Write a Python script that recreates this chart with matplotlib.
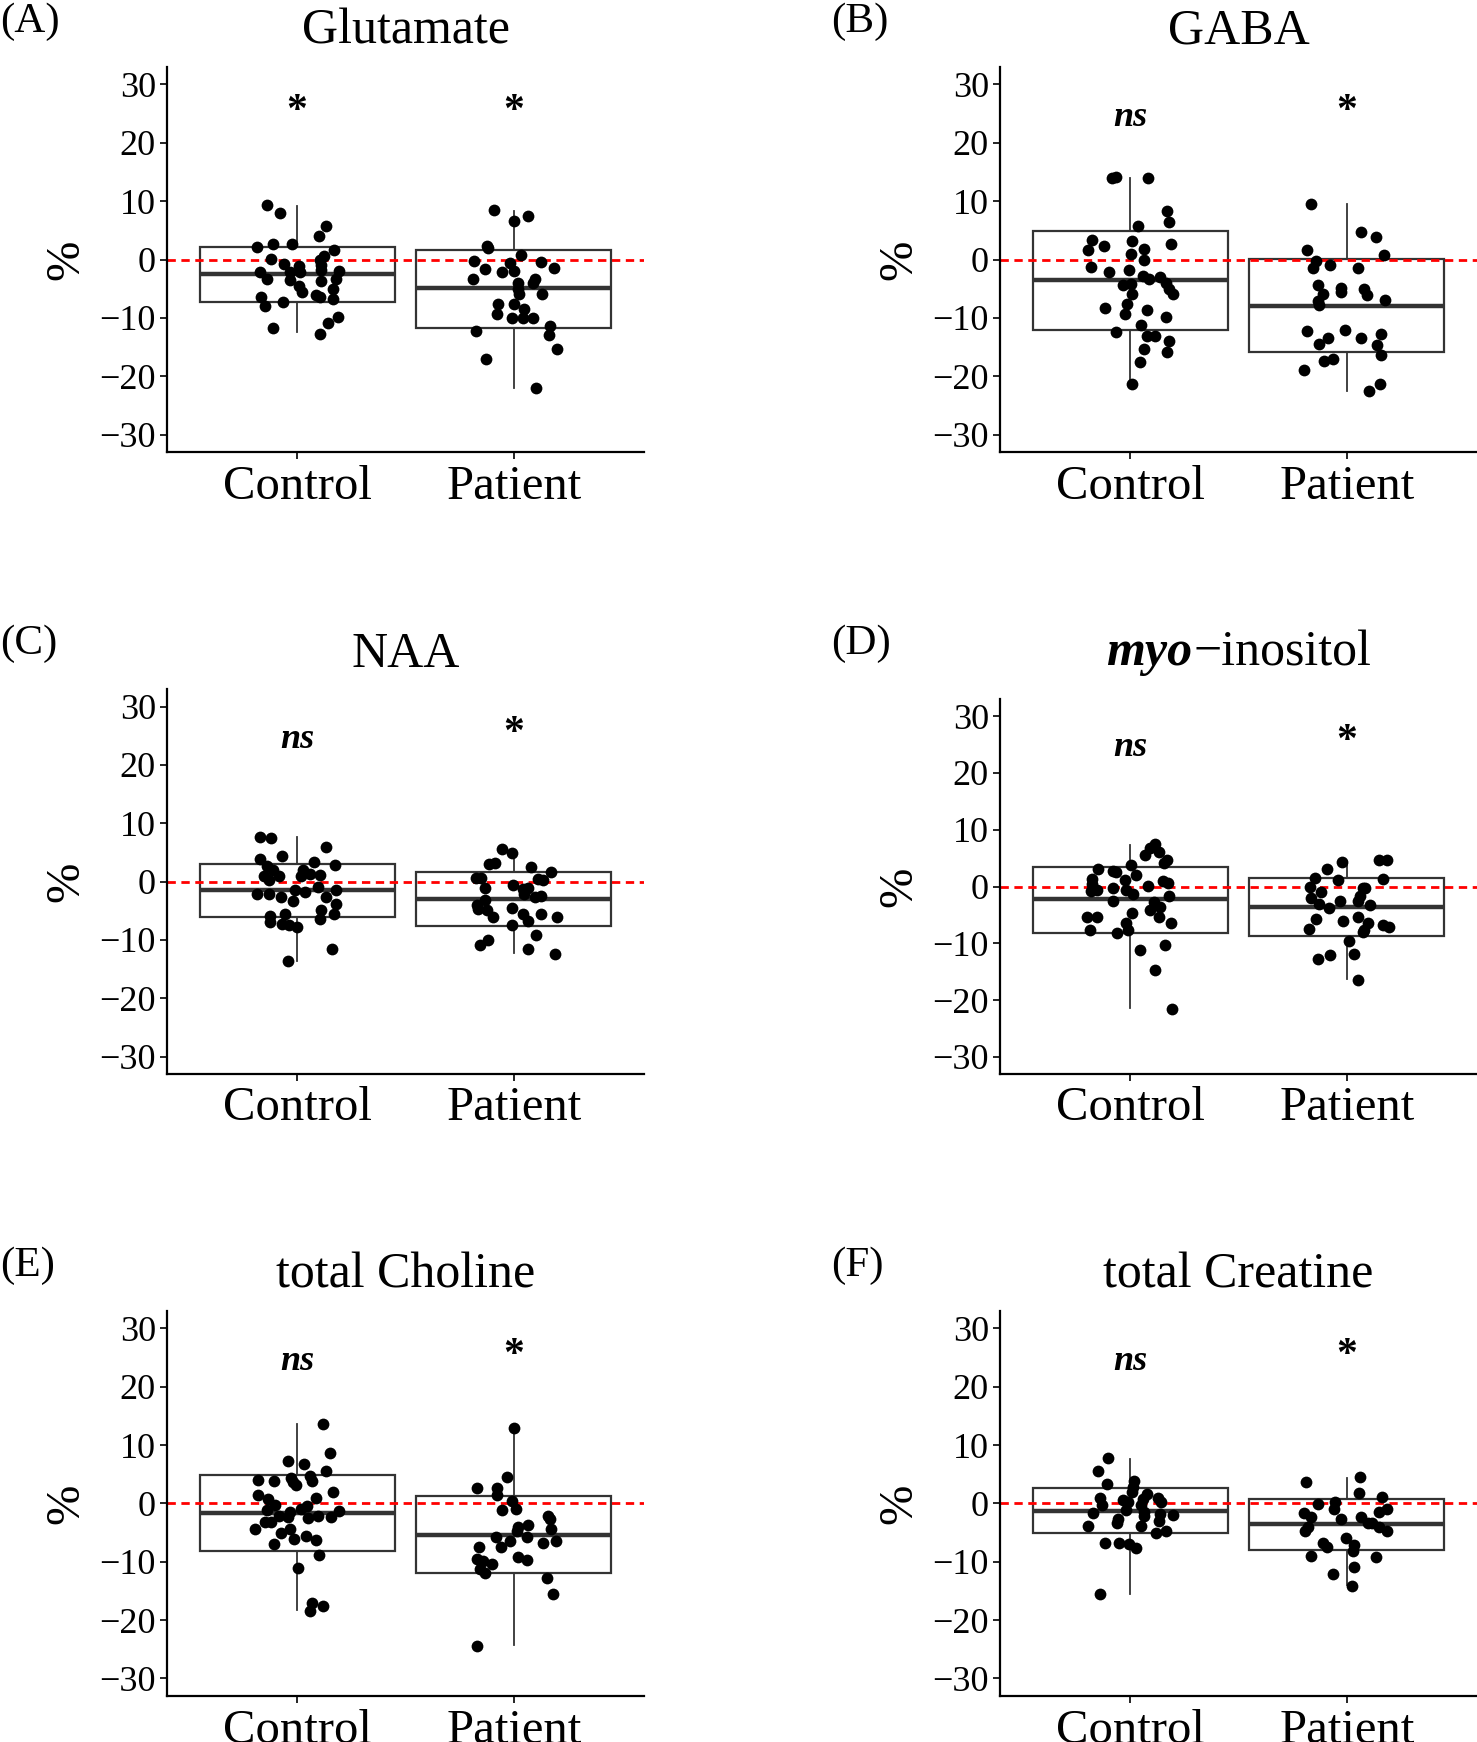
import matplotlib
matplotlib.use("Agg")
import matplotlib.pyplot as plt
import numpy as np

plt.rcParams['font.family'] = ['Liberation Serif', 'DejaVu Serif']
plt.rcParams['axes.unicode_minus'] = True

groups = ["Control", "Patient"]
y_ticks = [-30, -20, -10, 0, 10, 20, 30]
panel_letters = ["(A)", "(B)", "(C)", "(D)", "(E)", "(F)"]
titles = ["Glutamate", "GABA", "NAA", "myo\u2212inositol", "total Choline", "total Creatine"]
sig_labels = [["*", "*"], ["ns", "*"], ["ns", "*"], ["ns", "*"], ["ns", "*"], ["ns", "*"]]
star_y = 23.6
ns_y = 24.4

# ---- Glutamate ----
glu_control = [9.3, 7.9, 5.7, 4.0, 2.1, 2.6, 2.6, 1.6, 0.6, 0.1, 0.0, -0.7, -1.1, -1.0, -2.1, -2.1,
               -2.1, -1.9, -3.3, -3.5, -1.8, -3.7, -3.3, -5.0, -4.5, -5.5, -6.1, -6.4, -6.7, -6.5,
               -7.3, -8.0, -9.9, -10.8, -11.8, -12.7]
glu_control_jit = [-0.138, -0.081, 0.135, 0.103, -0.184, -0.113, -0.023, 0.169, 0.126, -0.120, 0.107,
                   -0.061, 0.011, 0.110, -0.169, -0.031, 0.015, 0.192, -0.141, -0.034, 0.110, 0.110,
                   0.181, 0.164, 0.008, 0.023, 0.087, 0.104, 0.164, -0.166, -0.066, -0.146, 0.189,
                   0.141, -0.110, 0.104]
glu_patient = [8.5, 6.6, 7.4, 2.3, 1.9, 0.7, -0.3, -0.6, -0.5, -1.7, -1.5, -2.2, -1.9, -3.4, -3.4,
               -4.1, -4.0, -5.0, -5.9, -5.9, -7.7, -7.7, -8.4, -9.4, -10.1, -10.1, -10.1, -11.4,
               -13.0, -12.3, -15.4, -17.0, -22.1]
glu_patient_jit = [-0.092, 0.0, 0.066, -0.126, -0.118, 0.031, -0.183, -0.018, 0.123, -0.133, 0.186,
                   -0.057, 0.0, -0.187, 0.097, 0.089, 0.020, 0.020, 0.025, 0.130, -0.075, 0.0, 0.046,
                   -0.080, -0.008, 0.040, 0.089, 0.166, 0.161, -0.175, 0.199, -0.130, 0.104]
# box stats: [whisker low, q1, median, q3, whisker high]
glu_control_box = [-12.5, -7.26, -2.5, 2.17, 9.2]
glu_patient_box = [-22.0, -11.66, -4.97, 1.6, 8.34]

# ---- GABA ----
gaba_control = [13.9, 14.1, 13.9, 8.4, 6.4, 5.7, 3.3, 1.6, 2.3, 3.2, 1.8, 2.6, 0.9, -0.1, -1.3, -2.2,
                -1.8, -2.9, -3.4, -3.0, -4.4, -4.2, -4.0, -5.1, -5.9, -5.9, -8.3, -7.7, -9.3, -8.7,
                -9.9, -11.3, -12.5, -13.1, -13.1, -13.9, -15.3, -15.8, -17.6, -21.3]
gaba_control_jit = [-0.084, -0.065, 0.084, 0.171, 0.178, 0.038, -0.174, -0.194, -0.121, 0.008, 0.063,
                    0.189, 0.005, 0.063, -0.182, -0.098, -0.003, 0.058, 0.089, 0.138, -0.034, 0.005,
                    0.166, 0.181, 0.197, 0.009, -0.115, -0.014, -0.022, 0.078, 0.166, 0.051, -0.063,
                    0.078, 0.115, 0.181, 0.063, 0.169, 0.048, 0.009]
gaba_patient = [9.6, 4.7, 3.8, 0.7, 1.6, -0.2, -1.4, -1.0, -1.5, -4.4, -5.9, -4.8, -5.5, -5.1, -6.1,
                -7.0, -7.1, -7.8, -12.3, -12.1, -13.5, -14.4, -13.4, -12.7, -14.7, -16.4, -17.4,
                -17.0, -18.9, -21.4, -22.6]
gaba_patient_jit = [-0.167, 0.063, 0.132, 0.171, -0.184, -0.143, -0.158, -0.080, 0.049, -0.132, -0.109,
                    -0.028, -0.025, 0.077, 0.091, 0.177, -0.135, -0.127, -0.186, -0.008, -0.088, -0.127,
                    0.066, 0.157, 0.138, 0.158, -0.104, -0.066, -0.200, 0.152, 0.103]
gaba_control_box = [-21.0, -12.11, -3.54, 4.91, 13.94]
gaba_patient_box = [-22.5, -15.89, -7.89, 0.17, 9.49]

# ---- NAA ----
naa_control = [7.7, 7.5, 4.3, 6.0, 3.9, 2.7, 1.9, 1.0, 0.9, 0.3, 3.3, 2.9, 2.0, 1.0, 1.3, 1.1, -1.0,
               -1.8, -1.4, -2.2, -2.1, -2.7, -3.3, -2.6, -1.5, -3.9, -4.8, -5.6, -5.5, -5.9, -7.0,
               -7.2, -7.5, -7.8, -6.4, -11.5, -13.7]
naa_control_jit = [-0.172, -0.120, -0.069, 0.135, -0.172, -0.141, -0.110, -0.084, -0.153, -0.130, 0.080,
                   0.176, 0.028, 0.018, 0.061, 0.107, 0.095, 0.038, -0.008, -0.187, -0.130, -0.074,
                   -0.018, 0.135, 0.181, 0.179, 0.110, 0.172, -0.054, -0.127, -0.127, -0.069, -0.038,
                   0.0, 0.107, 0.161, -0.041]
naa_patient = [5.6, 4.9, 3.0, 3.2, 2.5, 1.7, 0.6, 0.6, -1.1, -0.6, -1.3, -1.1, 0.5, 0.2, -2.2, -2.7,
               -2.4, -3.1, -4.1, -4.7, -4.8, -6.1, -4.5, -5.5, -6.8, -5.5, -6.0, -7.4, -9.2, -10.0,
               -10.9, -11.5, -12.4]
naa_patient_jit = [-0.057, -0.008, -0.113, -0.087, 0.081, 0.170, -0.175, -0.153, -0.133, -0.003, 0.040,
                   0.066, 0.112, 0.135, 0.047, 0.097, 0.127, -0.133, -0.172, -0.164, -0.123, -0.095,
                   -0.011, 0.040, 0.066, 0.124, 0.199, -0.011, 0.104, -0.118, -0.156, 0.063, 0.191]
naa_control_box = [-13.62, -6.1, -1.54, 3.02, 7.58]
naa_patient_box = [-12.25, -7.64, -3.08, 1.71, 5.1]

# ---- myo-inositol ----
mi_control = [7.4, 6.7, 5.6, 6.0, 4.7, 4.2, 3.1, 2.7, 2.5, 3.7, 2.1, 1.3, 0.4, -0.8, -0.6, -0.2, 1.1,
              -0.6, -1.3, 0.1, 0.9, 0.6, -1.7, -2.5, -2.8, -3.6, -4.2, -5.4, -6.5, -4.7, -5.3, -5.3,
              -7.6, -6.4, -8.2, -7.7, -11.2, -10.3, -14.7, -21.6]
mi_control_jit = [0.115, 0.094, 0.069, 0.132, 0.171, 0.155, -0.146, -0.080, -0.065, 0.002, 0.028,
                  -0.177, -0.177, -0.180, -0.152, -0.080, -0.023, -0.018, 0.012, 0.084, 0.152, 0.177,
                  0.181, -0.080, 0.109, 0.140, 0.094, 0.135, 0.189, 0.008, -0.198, -0.152, -0.186,
                  -0.020, -0.060, -0.008, 0.048, 0.161, 0.114, 0.194]
mi_patient = [4.4, 4.6, 4.6, 3.1, 1.5, 1.2, 1.3, 0.0, -1.0, -2.0, -0.2, -0.2, -1.6, -2.5, -2.5, -3.0,
              -3.8, -3.2, -5.8, -7.5, -6.0, -5.4, -6.5, -7.6, -8.0, -6.7, -7.1, -9.6, -11.9, -12.7,
              -12.1, -16.4]
mi_patient_jit = [-0.023, 0.149, 0.187, -0.092, -0.147, -0.043, 0.168, -0.169, -0.120, -0.166, 0.072,
                  0.083, 0.060, 0.049, -0.031, -0.127, -0.081, 0.108, -0.141, -0.174, -0.020, 0.052,
                  0.098, 0.077, 0.075, 0.168, 0.195, 0.011, 0.034, -0.135, -0.077, 0.049]
mi_control_box = [-21.44, -8.18, -2.28, 3.5, 7.36]
mi_patient_box = [-16.36, -8.76, -3.62, 1.52, 4.44]

# ---- total Choline ----
tcho_control = [13.6, 8.6, 7.3, 6.7, 5.6, 4.7, 3.9, 4.1, 3.9, 4.3, 3.6, 3.2, 2.0, 1.5, 0.7, -0.2,
                -1.1, 0.9, -0.4, -1.0, -1.5, -2.1, -2.4, -2.5, -2.1, -2.4, -1.3, -3.1, -3.1, -4.4,
                -4.4, -5.1, -6.1, -5.5, -6.3, -7.0, -8.8, -11.1, -17.1, -17.6, -18.4]
tcho_control_jit = [0.118, 0.153, -0.043, 0.034, 0.135, 0.061, 0.069, -0.181, -0.107, -0.026, -0.018,
                    -0.003, 0.164, -0.179, -0.135, -0.100, -0.138, 0.089, 0.046, 0.018, -0.031, -0.084,
                    -0.043, 0.049, 0.095, 0.158, 0.192, -0.147, -0.120, -0.196, -0.031, -0.074, -0.015,
                    0.041, 0.087, -0.107, 0.100, 0.003, 0.069, 0.120, 0.061]
tcho_patient = [12.9, 4.6, 2.6, 2.7, 1.5, 0.5, -1.1, -1.0, -2.1, -2.6, -3.7, -4.0, -4.8, -4.4, -5.7,
                -6.4, -5.8, -7.5, -6.8, -6.4, -7.4, -9.6, -9.8, -10.4, -11.2, -12.0, -9.2, -9.7,
                -12.8, -15.6, -24.5]
tcho_patient_jit = [0.002, -0.031, -0.172, -0.080, -0.080, -0.011, -0.057, 0.009, 0.158, 0.166, 0.063,
                    0.020, 0.015, 0.170, 0.061, -0.018, -0.084, -0.061, 0.135, 0.193, -0.163, -0.172,
                    -0.141, -0.103, -0.156, -0.133, 0.020, 0.061, 0.153, 0.178, -0.169]
tcho_control_box = [-18.23, -8.2, -1.65, 4.84, 13.56]
tcho_patient_box = [-24.33, -11.97, -5.36, 1.2, 12.88]

# ---- total Creatine ----
tcr_control = [7.8, 5.6, 3.3, 3.8, 2.9, 1.9, 1.7, 1.0, 0.9, -0.2, 0.6, 0.2, 0.7, -0.2, 0.2, -1.7,
               -1.1, -1.5, -2.7, -3.3, -2.1, -1.8, -2.0, -3.0, -5.0, -4.7, -3.9, -3.9, -6.8, -6.8,
               -7.0, -7.6, -15.6]
tcr_control_jit = [-0.103, -0.149, -0.106, 0.020, 0.012, 0.008, 0.078, 0.127, -0.138, -0.131, -0.034,
                   -0.011, 0.058, 0.051, 0.143, -0.169, -0.018, 0.066, -0.057, -0.060, 0.066, 0.140,
                   0.197, 0.134, 0.118, 0.166, -0.195, 0.051, -0.118, -0.049, -0.003, 0.028, -0.137]
tcr_patient = [4.6, 3.7, 1.8, 1.1, -0.1, 0.3, -1.0, -1.0, -1.4, -1.7, -2.4, -2.6, -2.4, -3.3, -3.3,
               -4.1, -4.7, -4.1, -4.8, -5.9, -6.8, -7.4, -7.1, -8.2, -9.0, -9.2, -10.9, -12.1, -14.1]
tcr_patient_jit = [0.061, -0.187, 0.054, 0.164, -0.132, -0.055, -0.061, 0.184, 0.149, -0.197, -0.166,
                   -0.025, 0.065, 0.095, 0.118, 0.149, 0.184, -0.181, -0.192, -0.005, -0.112, -0.092,
                   0.034, 0.026, -0.166, 0.133, 0.034, -0.063, 0.023]
tcr_control_box = [-15.5, -5.13, -1.25, 2.62, 7.58]
tcr_patient_box = [-13.9, -7.98, -3.53, 0.74, 4.33]

panels = [
    (glu_control, glu_control_jit, glu_patient, glu_patient_jit, glu_control_box, glu_patient_box),
    (gaba_control, gaba_control_jit, gaba_patient, gaba_patient_jit, gaba_control_box, gaba_patient_box),
    (naa_control, naa_control_jit, naa_patient, naa_patient_jit, naa_control_box, naa_patient_box),
    (mi_control, mi_control_jit, mi_patient, mi_patient_jit, mi_control_box, mi_patient_box),
    (tcho_control, tcho_control_jit, tcho_patient, tcho_patient_jit, tcho_control_box, tcho_patient_box),
    (tcr_control, tcr_control_jit, tcr_patient, tcr_patient_jit, tcr_control_box, tcr_patient_box),
]

W, H = 1477, 1742
fig = plt.figure(figsize=(W / 100, H / 100), dpi=100)

# axes boxes in pixels: (x0, x1, top, bottom)
cols = [(167, 644), (1000, 1477)]
rows = [(67, 452), (67, 452), (689, 1074), (699, 1074), (1311, 1696), (1311, 1696)]
title_baseline = [44, 44, 667, 665, 1287, 1287]
letter_baseline = [32, 32, 654, 654, 1276, 1276]
letter_x = [0, 831, 0, 831, 0, 831]

GREY = '#333333'
TITLE_SIZE = 36

for i, (c, cj, p, pj, cb, pb) in enumerate(panels):
    x0, x1 = cols[i % 2]
    top, bottom = rows[i]
    ax = fig.add_axes([x0 / W, 1 - bottom / H, (x1 - x0) / W, (bottom - top) / H])
    ax.set_xlim(0.4, 2.6)
    ax.set_ylim(-33, 33)

    stats = []
    for b in (cb, pb):
        stats.append(dict(whislo=b[0], q1=b[1], med=b[2], q3=b[3], whishi=b[4], fliers=[]))
    ax.bxp(stats, positions=[1, 2], widths=0.9, showfliers=False, showcaps=False,
           patch_artist=True,
           boxprops=dict(facecolor='white', edgecolor=GREY, linewidth=1.6),
           medianprops=dict(color=GREY, linewidth=3.2, solid_capstyle='butt'),
           whiskerprops=dict(color=GREY, linewidth=1.3), zorder=1)
    ax.axhline(0, color='red', linestyle=(0, (3, 2)), linewidth=2.0, zorder=2)
    ax.scatter(1 + np.array(cj), c, s=72, color='black', linewidths=0, zorder=3)
    ax.scatter(2 + np.array(pj), p, s=72, color='black', linewidths=0, zorder=3)

    for k, lab in enumerate(sig_labels[i]):
        if lab == '*':
            ax.text(k + 1, star_y, '*', ha='center', va='baseline', fontsize=30,
                    fontweight='bold', color='black')
        else:
            ax.text(k + 1, ns_y, 'ns', ha='center', va='center', fontsize=26,
                    fontweight='bold', fontstyle='italic', color='black')

    ax.spines['top'].set_visible(False)
    ax.spines['right'].set_visible(False)
    for s in ('left', 'bottom'):
        ax.spines[s].set_linewidth(1.6)
        ax.spines[s].set_color('black')
    ax.set_yticks(y_ticks)
    ax.set_yticklabels([f"{t}".replace('-', '\u2212') for t in y_ticks])
    ax.set_xticks([1, 2])
    ax.set_xticklabels(groups)
    ax.tick_params(axis='y', direction='out', length=5, width=1.2, pad=3, labelsize=26,
                   colors='black')
    ax.tick_params(axis='x', direction='out', length=5, width=1.2, pad=4, labelsize=35,
                   colors='black')
    ax.text(-0.21, 0.5, '%', transform=ax.transAxes, rotation=90, ha='center', va='center',
            fontsize=35)

    cx = (x0 + x1) / 2
    if i == 3:
        renderer = fig.canvas.get_renderer()
        t1 = fig.text(0, 1 - title_baseline[i] / H, 'myo', fontsize=TITLE_SIZE, fontweight='bold',
                      fontstyle='italic', va='baseline', ha='left')
        t2 = fig.text(0, 1 - title_baseline[i] / H, '\u2212inositol', fontsize=TITLE_SIZE,
                      va='baseline', ha='left')
        w1 = t1.get_window_extent(renderer).width
        w2 = t2.get_window_extent(renderer).width
        start = cx - (w1 + w2) / 2
        t1.set_x(start / W)
        t2.set_x((start + w1 + 1) / W)
    else:
        fig.text(cx / W, 1 - title_baseline[i] / H, titles[i], fontsize=TITLE_SIZE, ha='center',
                 va='baseline')
    fig.text(letter_x[i] / W, 1 - letter_baseline[i] / H, panel_letters[i], fontsize=31,
             ha='left', va='baseline')

fig.savefig('out.png', dpi=100)
